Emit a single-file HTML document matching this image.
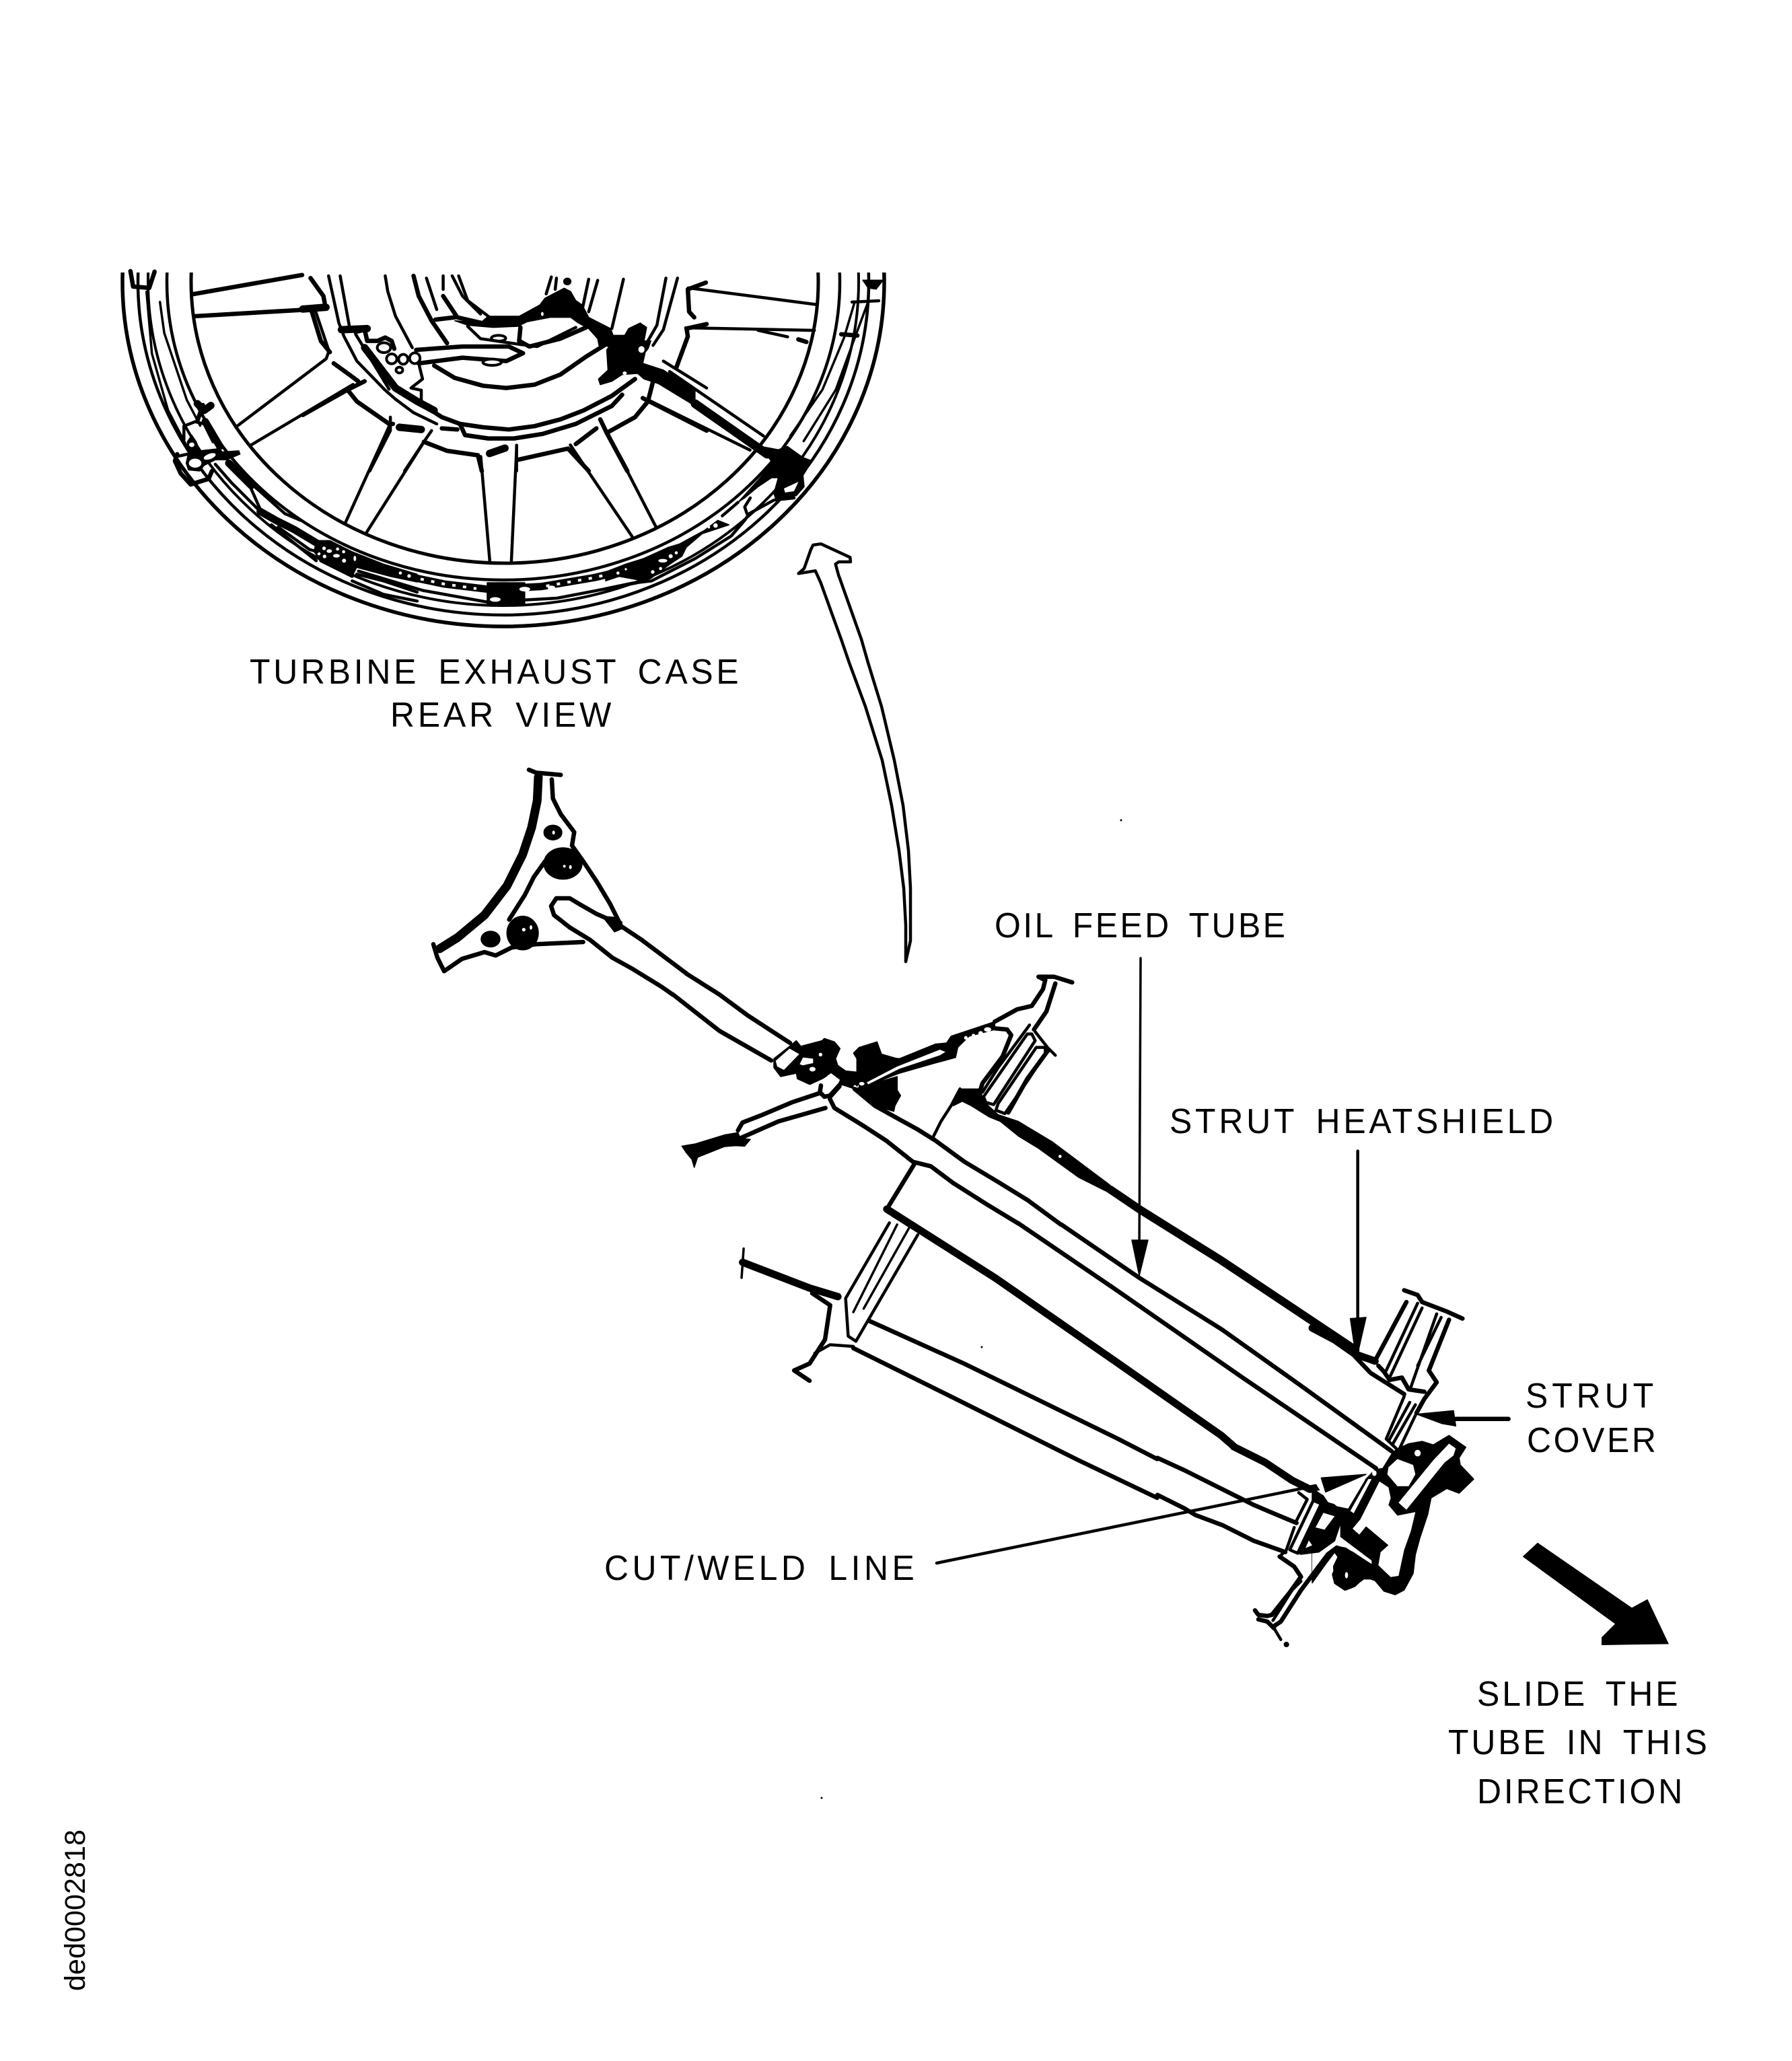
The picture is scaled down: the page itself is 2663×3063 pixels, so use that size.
<!DOCTYPE html>
<html><head><meta charset="utf-8"><style>
html,body{margin:0;padding:0;background:#fff}
svg{display:block}
svg *{vector-effect:non-scaling-stroke}
.l{fill:none;stroke:#000;stroke-width:4.5;stroke-linejoin:round;stroke-linecap:round}
.t{fill:none;stroke:#000;stroke-width:3.5;stroke-linejoin:round;stroke-linecap:round}
.m{fill:none;stroke:#000;stroke-width:6.5;stroke-linejoin:round;stroke-linecap:round}
.h{fill:none;stroke:#000;stroke-width:11;stroke-linejoin:round;stroke-linecap:round}
.b{fill:#000;stroke:#000;stroke-width:1.5;stroke-linejoin:round}
.w{fill:#fff;stroke:none}
.o{fill:#fff;stroke:#000;stroke-width:4;stroke-linejoin:round}
text{font-family:"Liberation Sans",sans-serif;font-size:52px;fill:#000;word-spacing:10px}
</style></head><body>
<svg width="2663" height="3063" viewBox="0 0 2663 3063" xmlns="http://www.w3.org/2000/svg">
<defs><clipPath id="c"><rect x="150" y="405" width="1250" height="560"/></clipPath></defs>
<rect width="2663" height="3063" fill="#fff"/>

<!-- wheel rings -->
<g clip-path="url(#c)" fill="none" stroke="#000">
<ellipse cx="748" cy="419" rx="566" ry="512" stroke-width="5.5"/>
<ellipse cx="748" cy="419" rx="543" ry="495" stroke-width="4.5"/>
<ellipse cx="748" cy="419" rx="528" ry="481" stroke-width="4"/>
<ellipse cx="748" cy="419" rx="500" ry="443" stroke-width="4.5"/>
<ellipse cx="750" cy="419" rx="466" ry="418" stroke-width="5"/>
</g>

<!-- wheel details (zoom 1 space) -->
<g transform="translate(150 380) scale(.7972 .3827)">
<polyline class="h" points="480,1180 560,1240 640,1275 720,1295 820,1285 920,1250 1020,1200"/>
<polyline fill="none" stroke="#fff" stroke-width="4" stroke-dasharray="5 11" points="500,1195 560,1240 640,1275 700,1293"/>
<polyline fill="none" stroke="#fff" stroke-width="4" stroke-dasharray="5 11" points="830,1283 920,1250 1000,1210"/>
<polyline class="l" points="480,1225 600,1300 720,1345 850,1330 1000,1270"/>
<polyline class="t" points="85,140 95,380 125,600 165,760"/>
<polyline class="t" points="110,180 118,300 160,560 185,660"/>
<polyline class="m" points="190,580 180,640"/>
<polyline class="t" points="1430,180 1405,320 1370,520 1310,720"/>
<polyline class="t" points="1405,180 1385,320 1345,520 1285,700"/>
<polyline class="m" points="170,150 375,75"/>
<polyline class="m" points="175,235 420,205"/>
<polyline class="l" points="255,660 420,400 425,370 400,215"/>
<polyline class="l" points="280,735 470,500"/>
<polyline class="l" points="455,1040 540,650"/>
<polyline class="l" points="495,1075 600,730"/>
<polyline class="l" points="708,780 725,1190"/>
<polyline class="l" points="775,740 765,1190"/>
<polyline class="l" points="875,735 990,1090"/>
<polyline class="l" points="945,690 1035,1055"/>
<polyline class="l" points="1020,560 1210,755"/>
<polyline class="l" points="1060,450 1235,700"/>
<polyline class="l" points="1095,125 1335,190"/>
<polyline class="l" points="1090,280 1330,290"/>
<polyline class="l" points="1225,290 1280,315"/>
<rect class="b" x="720" y="1270" width="70" height="85"/>
<ellipse class="w" cx="790" cy="1295" rx="10" ry="9"/>
<ellipse class="w" cx="735" cy="1335" rx="10" ry="9"/>
<ellipse class="w" cx="840" cy="1290" rx="7" ry="9"/>
<polyline class="m" points="55,60 60,120 90,125 100,62"/>
<polygon class="b" points="1420,95 1458,95 1445,130 1430,125"/>
<polyline class="l" points="1400,180 1450,175"/>
<polyline class="m" points="1380,305 1410,310"/>
<polyline class="m" points="1300,325 1315,335"/>
</g>
<polyline class="h" style="stroke-width:13" points="1033,600 1140,675"/>

<!-- hub trace -->
<g transform="translate(450 400) scale(.3827 .3333)">
<polygon class="b" points="940,130 1015,85 1040,100 1060,140 1085,160 1110,215 1195,265 1205,295 1250,295 1265,265 1310,240 1335,260 1325,320 1365,320 1330,370 1320,420 1400,450 1523,540 1523,610 1380,510 1325,490 1300,465 1240,470 1200,500 1155,515 1148,490 1185,450 1180,360 1190,345 1150,340 1145,310 1110,265 1070,240 1040,215 960,215 870,235 835,255 740,260 640,250 590,230 690,240 720,210 840,210 920,160"/>
<ellipse class="w" cx="1315" cy="358" rx="12" ry="15"/>
<ellipse class="w" cx="930" cy="200" rx="5" ry="9"/>
<ellipse class="w" cx="1250" cy="464" rx="8" ry="8"/>
<polygon class="w" points="1355,315 1385,315 1355,410 1328,405"/>
<polyline class="m" points="35,190 70,320 105,370"/>
<polyline class="m" points="30,40 80,120 85,150"/>
<polyline class="h" points="0,178 90,170"/>
<polyline class="l" points="100,30 140,240 160,300 210,410 320,540 360,580 430,640 520,690"/>
<polyline class="l" points="145,30 180,250"/>
<polyline class="h" points="150,270 250,265"/>
<polyline class="m" points="205,280 240,270 250,320 290,320 320,305 345,320 355,355"/>
<polyline class="h" points="240,350 360,530 445,590 510,630"/>
<polyline class="l" points="205,290 335,535"/>
<polyline class="l" points="320,30 330,100 360,210 425,350"/>
<polyline class="m" points="430,30 450,120 500,230 560,330"/>
<polyline class="l" points="480,40 520,180"/>
<polyline class="m" points="545,120 600,215 695,240"/>
<polyline class="m" points="515,225 590,215"/>
<polyline class="l" points="545,30 545,90"/>
<polyline class="l" points="580,30 620,120 690,200"/>
<polyline class="l" points="605,30 640,140 720,210"/>
<ellipse class="o" cx="315" cy="350" rx="26" ry="22"/>
<ellipse class="o" cx="345" cy="400" rx="20" ry="22"/>
<ellipse class="o" cx="390" cy="402" rx="18" ry="22"/>
<ellipse class="o" cx="435" cy="397" rx="20" ry="24"/>
<ellipse class="o" cx="375" cy="450" rx="13" ry="13"/>
<polyline class="m" points="440,360 620,345 800,345 855,375 790,410 620,395 450,420"/>
<polyline class="l" points="450,420 465,490 420,530 460,540 460,590"/>
<polyline class="m" points="510,430 590,485 700,520 790,530 900,515 1000,470 1100,390 1170,340"/>
<ellipse class="o" cx="735" cy="415" rx="36" ry="14"/>
<ellipse class="o" cx="760" cy="308" rx="28" ry="13"/>
<polyline class="l" points="640,255 690,310 840,335 910,345 1060,260"/>
<polyline class="m" points="845,260 840,320 880,345 1000,310 1100,260"/>
<polyline class="m" points="460,600 540,660 610,690 700,705 800,715 900,700 1000,670 1090,630 1200,565 1290,490"/>
<polyline class="m" points="610,690 630,740 720,755 820,755 930,735 1060,690 1200,610 1240,560"/>
<polyline class="m" points="540,710 600,715"/>
<polyline class="h" points="375,705 460,715"/>
<polyline class="m" points="120,420 180,470 215,500"/>
<polyline class="m" points="0,650 170,540 240,500"/>
<polyline class="m" points="175,540 210,590 335,690 350,690"/>
<polyline class="l" points="340,660 340,720 260,900"/>
<polyline class="l" points="500,720 470,770 395,900"/>
<polyline class="m" points="470,770 560,810 680,830 695,900"/>
<polyline class="h" points="725,822 785,798"/>
<polyline class="l" points="830,785 830,900"/>
<polyline class="m" points="835,850 1030,800 1110,900"/>
<polyline class="m" points="1060,780 1140,710"/>
<polyline class="m" points="1155,670 1180,730 1260,900"/>
<polyline class="m" points="1180,730 1290,660 1340,590 1360,500"/>
<polyline class="m" points="1320,575 1568,720"/>
<polyline class="l" points="1245,45 1200,265"/>
<polyline class="l" points="1110,45 1085,180"/>
<polyline class="l" points="1145,50 1110,190"/>
<polyline class="l" points="965,35 945,110"/>
<polyline class="l" points="985,40 980,90"/>
<ellipse class="b" cx="1027" cy="55" rx="14" ry="15"/>
<polyline class="l" points="1410,40 1375,250 1330,340"/>
<polyline class="l" points="1455,40 1400,270 1360,340"/>
<polyline class="m" points="1565,60 1495,90 1500,190 1520,215"/>
<polyline class="m" points="1568,245 1490,265 1495,300 1450,440"/>
<polyline class="l" points="1400,410 1568,530"/>
</g>

<!-- right lower rim -->
<g transform="translate(900 600) scale(.3333)">
<polygon class="b" points="0,750 90,715 170,690 280,640 330,625 440,565 500,520 550,540 430,580 360,640 340,680 280,720 200,780 170,790 60,770 0,790"/>
<circle class="w" cx="290" cy="680" r="9"/><circle class="w" cx="315" cy="665" r="7"/><circle class="w" cx="245" cy="735" r="7"/><ellipse class="w" cx="255" cy="700" rx="20" ry="8"/><circle class="w" cx="55" cy="755" r="7"/><circle class="w" cx="90" cy="738" r="5"/><circle class="w" cx="490" cy="543" r="10"/><circle class="w" cx="460" cy="550" r="6"/><circle class="w" cx="210" cy="750" r="8"/>
<polyline class="l" points="0,825 120,800 205,790 400,690 560,590 620,520 640,490 750,430 840,420"/>
<polyline class="l" points="630,490 620,460 645,420"/>
<polyline class="l" points="590,440 520,500"/>
<polygon class="b" points="690,190 770,205 810,190 880,240 920,255 880,320 885,370 850,410 760,430 750,400 770,330 740,330 680,370 620,420 590,440 680,340 745,265"/>
<polygon class="w" points="795,378 860,348 840,390 800,396"/>
<polyline class="l" points="860,757 885,735 915,650 925,630 960,625 1090,685 1092,705 1040,705 1025,715 1040,770"/>
<polyline class="l" points="860,757 935,745 960,800"/>
</g>
<polyline class="l" points="1220,867 1250,950 1262,985 1286,1050 1311,1130 1325,1197 1336,1264 1343,1320 1346,1375 1346,1429"/>
<polyline class="l" points="1247,857 1280,950 1290,985 1310,1050 1329,1130 1342,1197 1350,1264 1353,1320 1353,1398 1346,1429"/>

<!-- left lower rim -->
<g transform="translate(170 600) scale(.3333)">
<polygon class="b" points="345,140 365,170 380,210 470,200 480,215 555,210 560,225 500,250 450,250 400,275 380,300 330,295 320,265 330,220 325,170"/>
<ellipse class="w" cx="360" cy="265" rx="28" ry="20"/>
<ellipse class="w" cx="425" cy="235" rx="28" ry="12" transform="rotate(-20 425 235)"/>
<ellipse class="w" cx="345" cy="183" rx="12" ry="10"/>
<polyline class="m" points="280,225 270,255 295,310 340,360 420,335 435,300"/>
<polyline class="l" points="325,225 280,235"/>
<polyline class="h" points="370,0 400,30 430,8"/>
<polyline class="l" points="310,160 310,100 360,80 400,90 440,170"/>
<polyline class="h" points="405,80 470,190"/>
<polyline class="l" points="450,270 520,350 640,470"/>
<polyline class="h" points="510,265 610,365"/>
<polyline class="l" points="620,365 760,490 830,520"/>
<polyline class="l" points="610,380 650,470"/>
<polyline class="h" points="650,480 720,520 800,560 900,620"/>
<polygon class="b" points="900,610 960,610 1060,660 1200,715 1350,760 1350,795 1230,770 1080,730 1060,770 1000,730 920,700 890,660"/>
<circle class="w" cx="935" cy="645" r="8"/><ellipse class="w" cx="958" cy="657" rx="12" ry="8"/><circle class="w" cx="995" cy="648" r="7"/><circle class="w" cx="1022" cy="660" r="7"/><ellipse class="w" cx="990" cy="678" rx="15" ry="8"/><circle class="w" cx="937" cy="681" r="8"/><circle class="w" cx="1024" cy="700" r="9"/><ellipse class="w" cx="1072" cy="690" rx="6" ry="12"/><circle class="w" cx="912" cy="669" r="7"/><circle class="w" cx="1275" cy="755" r="7"/><circle class="w" cx="1314" cy="768" r="8"/>
<polyline class="l" points="730,550 870,650 905,660"/>
<polyline class="l" points="700,540 900,700"/>
<polyline class="l" points="920,700 1060,770"/>
<polyline class="l" points="1080,760 1200,790 1350,840"/>
<polyline class="l" points="1060,790 1200,850 1350,880"/>
</g>

<!-- triangular plate -->
<g transform="translate(620 1130) scale(.3333)">
<polyline class="m" points="498,42 530,55 640,65"/>
<polyline class="h" style="stroke-width:13" points="540,75 535,180 510,300 470,420 400,560 300,690 180,790 100,840"/>
<polyline class="m" points="600,85 605,170 640,240 700,320 690,380 740,450 800,540 860,640 905,730"/>
<polyline class="m" points="72,820 90,880 120,940 200,885 300,855 350,870 420,835 530,820 740,810"/>
<polyline class="m" points="570,450 520,520 480,600 410,710"/>
<ellipse class="b" cx="605" cy="322" rx="40" ry="33"/><ellipse class="w" cx="608" cy="322" rx="6" ry="9"/>
<ellipse class="b" cx="650" cy="460" rx="85" ry="70"/><circle class="w" cx="656" cy="472" r="6"/><ellipse class="w" cx="683" cy="476" rx="6" ry="9"/>
<ellipse class="b" cx="470" cy="770" rx="70" ry="75"/><circle class="w" cx="475" cy="755" r="8"/><ellipse class="w" cx="507" cy="745" rx="6" ry="10"/>
<ellipse class="b" cx="327" cy="797" rx="42" ry="35"/>
<polyline class="m" points="800,685 730,645 680,615 620,615 597,650 610,690 680,745 770,800 870,880 960,930 1090,1010 1140,1045"/>
<polyline class="m" points="800,685 880,720 1000,800 1200,950"/>
<polygon class="b" points="825,695 880,700 912,720 915,750 880,765"/>
</g>

<!-- tube 1 -->
<polyline class="m" points="1000,1478 1069,1532 1146,1576"/>
<polyline class="m" points="1020,1447 1069,1478 1111,1509 1174,1550"/>

<!-- collar + upper flange -->
<g transform="translate(1150 1440) scale(.3333)">
<polygon class="b" points="100,320 120,345 215,320 225,310 270,325 295,355 275,400 285,430 320,455 370,460 370,400 355,375 380,350 460,325 480,380 550,400 420,490 380,510 360,535 300,515 255,465 215,490 160,515 105,490 100,465 30,480 0,440 0,400 70,345"/>
<polygon class="w" points="8,410 70,355 113,380 45,450 15,435"/>
<polygon class="w" points="115,425 130,395 175,400 175,420 150,425 130,430"/>
<ellipse class="w" cx="172" cy="447" rx="14" ry="10"/>
<circle class="w" cx="208" cy="382" r="8"/>
<polygon class="w" points="205,550 240,475 255,465 295,495 250,565 225,565"/>
<polyline class="m" points="210,520 205,550 225,570 250,565 295,515"/>
<polygon class="b" points="360,535 550,480 550,540 565,565 540,610 535,635 450,610"/>
<polygon class="b" points="380,510 480,390 560,400 720,335 770,330 790,300 985,235 985,270 870,300 820,350 810,395 700,425 560,465 380,535"/>
<polygon class="w" points="415,505 550,435 740,360 765,370 740,385 560,445 420,515"/>
<circle class="w" cx="856" cy="307" r="8"/><circle class="w" cx="890" cy="297" r="8"/><circle class="w" cx="922" cy="287" r="10"/><ellipse class="w" cx="953" cy="270" rx="16" ry="10"/><circle class="w" cx="362" cy="525" r="7"/><ellipse class="w" cx="392" cy="512" rx="12" ry="8"/>
<polyline class="m" points="985,265 1040,270 1058,295 1020,390 930,510 918,550"/>
<polyline class="m" points="985,235 1085,180 1150,165 1200,90 1210,50 1180,35 1250,35 1330,60"/>
<polyline class="m" points="1255,65 1215,190 1160,270"/>
<polyline class="l" points="1140,250 1000,440 930,550"/>
<polyline class="l" points="1150,290 1165,320 980,605 945,595 935,570 1130,290 1150,290"/>
<polyline class="l" points="1170,350 1210,350 1210,380 1130,500 1030,645 990,630 1000,600 1170,350"/>
<polyline class="l" points="1165,280 1220,350 1255,385"/>
<polyline class="m" points="1225,360 1130,490 1045,640"/>
<polyline class="m" points="360,535 450,610 540,660 640,715 720,765 850,860 1000,950 1130,1030 1280,1140"/>
<polyline class="m" points="250,580 270,620 400,700 500,765 620,860 700,880 800,955 950,1050 1090,1135"/>
<polyline class="l" points="255,570 295,525"/>
<polyline class="l" points="705,760 745,680 790,610 830,535"/>
<polygon class="b" points="830,535 920,535 935,590 1000,650 1090,680 1240,770 1500,965 1500,1000 1360,930 1180,800 1090,745 1010,680 960,660 880,610 840,590 800,610"/>
<circle class="w" cx="1276" cy="836" r="7"/>
</g>

<!-- lower flange -->
<g transform="translate(1000 1580) scale(.3333)">
<polygon class="b" points="40,370 100,360 230,320 290,310 300,335 345,340 320,370 280,368 230,372 110,420 95,465 85,430 60,400"/>
<polyline class="m" points="290,300 310,265 400,230 530,175 650,135"/>
<polyline class="m" points="300,335 470,260 680,200"/>
</g>

<!-- lower section -->
<g transform="translate(1050 1700) scale(.7653 .5102)">
<polyline class="m" points="689,235 840,390 1000,540 1150,700 1330,895"/>
<polyline class="m" points="605,231 800,430 1040,680 1300,945"/>
<polyline class="h" style="stroke-width:12" points="784,133 840,190 1000,340 1260,600"/>
<polyline class="m" points="405,55 350,190"/>
<polyline class="h" points="350,190 560,390 800,640 1000,850 1023,880"/>
<polyline class="l" points="355,230 270,450 275,560 290,575 410,265"/>
<polyline class="t" points="370,235 285,490"/>
<polyline class="t" points="395,240 305,480"/>
<polyline class="h" points="70,345 200,420 255,445"/>
<polyline class="t" points="72,305 68,390"/>
<polyline class="m" points="205,435 240,470 230,570 200,640 170,660 200,690"/>
<polyline class="l" points="210,610 240,585 285,590"/>
<polyline class="m" points="315,515 500,640 800,860 875,918"/>
<polyline class="m" points="285,595 480,740 720,920 875,1031"/>
</g>

<!-- bracket trace -->
<g transform="translate(1950 1900) scale(.3333 .3508)">
<polygon class="b" points="385,720 430,700 490,690 540,705 610,665 685,715 655,760 660,790 720,850 655,910 600,890 530,930 515,1000 480,1100 460,1170 450,1250 410,1320 370,1340 320,1325 280,1280 235,1265 190,1305 150,1320 100,1290 95,1220 115,1180 100,1160 60,1210 0,1290 0,880 20,880 70,950 160,975 240,850 280,810 315,805 360,735"/>
<polygon class="w" points="0,945 40,950 25,990 0,1010"/>
<polygon class="w" points="50,990 100,1005 60,1065 15,1060"/>
<polygon class="w" points="0,1155 90,1040 125,1040 125,1095 265,1195 265,1210 150,1140 120,1135 80,1160 0,1270"/>
<polygon class="w" points="300,860 340,885 350,930 340,960 380,1005 460,990 440,1070 410,1150 385,1260 350,1265 295,1215 305,1160 340,1130 240,1050 210,1085 180,1060 215,1020"/>
<polygon class="w" points="250,850 265,850 185,995 170,985"/>
<polygon class="w" points="20,900 235,855 160,975 110,965 60,925"/>
<polygon class="w" points="610,700 640,720 630,750 590,780 420,980 385,950 540,770"/>
<polygon class="w" points="380,765 450,790 460,830 430,880 380,880 335,830 340,800"/>
<ellipse class="w" cx="155" cy="1258" rx="8" ry="14"/>
<ellipse class="w" cx="470" cy="740" rx="14" ry="14"/>
<ellipse class="w" cx="277" cy="825" rx="10" ry="12"/>
<polygon class="b" points="40,845 240,830 60,905"/>
<polyline class="l" points="203,-540 203,170"/>
<polygon class="b" points="170,170 240,165 205,310 190,300"/>
<polyline class="h" points="0,210 100,260 190,320 280,350"/>
<polyline class="m" points="190,330 260,400 410,490"/>
<polyline class="m" points="410,50 470,70 490,100 600,140 670,170"/>
<polyline class="m" points="420,100 285,340"/>
<polyline class="l" points="470,105 330,390"/>
<polyline class="l" points="490,125 345,420"/>
<polyline class="l" points="555,150 440,460"/>
<polyline class="l" points="575,165 470,370"/>
<polyline class="m" points="610,175 520,390 555,440 500,510 465,570"/>
<polyline class="m" points="295,370 320,395 345,430 400,420 430,470 500,480"/>
<polyline class="l" points="410,500 330,680 385,730 465,570"/>
<polyline class="l" points="435,525 340,690"/>
<polyline class="l" points="460,535 360,700"/>
<polyline class="m" points="640,595 875,595"/>
<polygon class="b" points="465,575 630,560 640,625 580,615"/>
</g>

<!-- junction at lower struts -->
<g transform="translate(1720 2150) scale(.3333)">
<polyline class="m" points="0,50 120,105 280,185 380,235 430,260 500,290 620,340"/>
<polyline class="m" points="0,215 120,275 170,305 290,350 430,420 570,470"/>
<polyline class="h" points="340,0 480,70 600,150 680,190"/>
<polyline class="l" points="630,205 668,235 620,330"/>
<polyline class="l" points="610,360 575,460 545,490"/>
<polygon class="b" points="640,480 625,475 670,340 700,260 740,290 800,300 815,345 790,420 720,470"/>
<polygon class="w" points="695,240 730,255 625,475 590,460"/>
<polyline class="l" points="695,240 730,255 625,475 590,460 695,240"/>
<polygon class="w" points="740,295 790,310 745,370 705,360"/>
<polygon class="w" points="675,418 690,440 660,452"/>
<polyline class="m" points="545,490 610,535 640,580 590,650 510,750 490,755 450,750 435,730"/>
<polyline class="m" points="450,770 490,780 520,810"/>
<polyline class="l" points="520,810 550,860"/>
<circle class="b" cx="575" cy="882" r="10"/>
<polyline class="m" points="800,450 760,480 640,640 550,780 520,800"/>
<polyline class="l" points="640,600 600,640 515,775"/>
<polygon class="b" points="810,445 870,470 960,530 960,590 920,590 880,620 835,640 790,610 780,570 810,495"/>
<ellipse class="w" cx="843" cy="573" rx="7" ry="14"/>
</g>

<!-- leaders -->
<polyline class="t" points="1695,1424 1693,1860"/>
<polygon class="b" points="1682,1843 1706,1843 1693,1896"/>
<polyline class="l" points="1392,2323 1955,2208"/>

<!-- big arrow -->
<g transform="translate(2250 2270) scale(.3333)">
<polygon fill="#000" points="38,130 105,68 525,358 595,320 690,520 390,525 390,490 450,430"/>
</g>

<!-- specks -->
<circle cx="1666" cy="1219" r="1.5"/><circle cx="1221" cy="2672" r="1.5"/><circle cx="1459" cy="2002" r="1.5"/>

<!-- labels -->
<text transform="translate(371 1016) scale(.96 1)" textLength="757" lengthAdjust="spacing">TURBINE EXHAUST CASE</text>
<text transform="translate(580 1080) scale(.96 1)" textLength="342" lengthAdjust="spacing">REAR VIEW</text>
<text transform="translate(1478 1393) scale(.96 1)" textLength="450" lengthAdjust="spacing">OIL FEED TUBE</text>
<text transform="translate(1738 1684) scale(.96 1)" textLength="594" lengthAdjust="spacing">STRUT HEATSHIELD</text>
<text transform="translate(2267 2092) scale(.96 1)" textLength="198" lengthAdjust="spacing">STRUT</text>
<text transform="translate(2269 2158) scale(.96 1)" textLength="200" lengthAdjust="spacing">COVER</text>
<text transform="translate(898 2348) scale(.96 1)" textLength="480" lengthAdjust="spacing">CUT/WELD LINE</text>
<text transform="translate(2195 2535) scale(.96 1)" textLength="311" lengthAdjust="spacing">SLIDE THE</text>
<text transform="translate(2152 2607) scale(.96 1)" textLength="401" lengthAdjust="spacing">TUBE IN THIS</text>
<text transform="translate(2195 2680) scale(.96 1)" textLength="318" lengthAdjust="spacing">DIRECTION</text>
<text transform="translate(126 2959) rotate(-90)" style="font-size:43px;word-spacing:0" textLength="240" lengthAdjust="spacingAndGlyphs">ded0002818</text>
</svg>
</body></html>
